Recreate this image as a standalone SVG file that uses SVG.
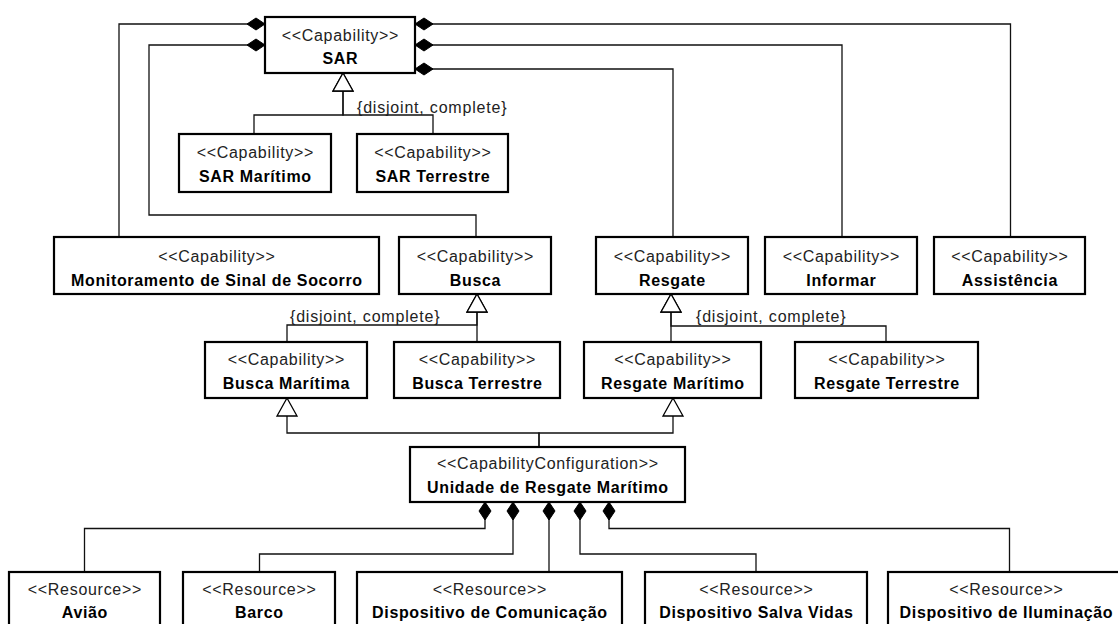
<svg xmlns="http://www.w3.org/2000/svg" width="1118" height="624" viewBox="0 0 1118 624">
  <style>
    .box { fill: #fff; stroke: #000; stroke-width: 2.2; }
    .st { font-family: "Liberation Sans", Arial, sans-serif; font-size: 16px; fill: #222; letter-spacing: 0.7px; text-anchor: middle; }
    .nm { font-family: "Liberation Sans", Arial, sans-serif; font-size: 16px; font-weight: bold; fill: #000; letter-spacing: 0.65px; text-anchor: middle; }
    .lbl { font-family: "Liberation Sans", Arial, sans-serif; font-size: 16px; fill: #222; letter-spacing: 0.8px; }
    .edge { fill: none; stroke: #111; stroke-width: 1.3; }
    .comp { marker-start: url(#diamond); }
    .gen { marker-end: url(#triangle); }
  </style>
  <defs>
    <!-- filled diamond for composition ends -->
    <marker id="diamond" markerUnits="userSpaceOnUse" markerWidth="20" markerHeight="14" refX="0" refY="0" orient="auto" overflow="visible">
      <path d="M0,0 L9,-6 L18,0 L9,6 Z" fill="#000" stroke="#000" stroke-width="1"/>
    </marker>
    <!-- hollow triangle for generalization ends -->
    <marker id="triangle" markerUnits="userSpaceOnUse" markerWidth="20" markerHeight="22" refX="0" refY="0" orient="auto" overflow="visible">
      <path d="M0,0 L-18,-10 L-18,10 Z" fill="#fff" stroke="#000" stroke-width="1.3"/>
    </marker>
  </defs>

  <rect width="1118" height="624" fill="#fff"/>

  <g id="connectors">
    <!-- compositions owned by SAR -->
    <path class="edge comp" d="M265,24 H119 V237"/>
    <path class="edge comp" d="M265,45 H149 V215 H476 V237"/>
    <path class="edge comp" d="M415,24 H1010.5 V237"/>
    <path class="edge comp" d="M415,45 H842 V237"/>
    <path class="edge comp" d="M415,69 H673 V237"/>
    <!-- SAR specializations -->
    <path class="edge gen" d="M254,134 V115 H343 V73"/>
    <path class="edge gen" d="M433,134 V115 H343 V73"/>
    <!-- Busca specializations -->
    <path class="edge gen" d="M287,342 V325 H477 V294"/>
    <path class="edge gen" d="M477,342 V294"/>
    <!-- Resgate specializations -->
    <path class="edge gen" d="M671,342 V294"/>
    <path class="edge gen" d="M886,342 V326 H671 V294"/>
    <!-- configuration realizes both maritime capabilities -->
    <path class="edge gen" d="M539,447 V433 H287 V398"/>
    <path class="edge gen" d="M539,447 V433 H673 V398"/>
    <!-- resources composing the configuration -->
    <path class="edge comp" d="M485,502 V528.5 H84.5 V572"/>
    <path class="edge comp" d="M513,502 V554 H259.5 V572"/>
    <path class="edge comp" d="M549,502 V572"/>
    <path class="edge comp" d="M580,502 V554 H756 V572"/>
    <path class="edge comp" d="M609,502 V528.5 H1009.5 V572"/>
    <!-- generalization set constraints -->
    <text class="lbl" x="357" y="113">{disjoint, complete}</text>
    <text class="lbl" x="290" y="322">{disjoint, complete}</text>
    <text class="lbl" x="696" y="322">{disjoint, complete}</text>
  </g>

  <g id="sar">
    <rect class="box" x="265" y="17" width="150" height="56"/>
    <text class="st" x="340.4" y="41">&lt;&lt;Capability&gt;&gt;</text>
    <text class="nm" x="340.4" y="64">SAR</text>
  </g>
  <g id="sar-maritimo">
    <rect class="box" x="179" y="134" width="152" height="58"/>
    <text class="st" x="255.4" y="158">&lt;&lt;Capability&gt;&gt;</text>
    <text class="nm" x="255.4" y="182">SAR Marítimo</text>
  </g>
  <g id="sar-terrestre">
    <rect class="box" x="357" y="134" width="151" height="58"/>
    <text class="st" x="432.9" y="158">&lt;&lt;Capability&gt;&gt;</text>
    <text class="nm" x="432.9" y="182">SAR Terrestre</text>
  </g>
  <g id="monitoramento">
    <rect class="box" x="54" y="237" width="325" height="57"/>
    <text class="st" x="216.9" y="262">&lt;&lt;Capability&gt;&gt;</text>
    <text class="nm" x="216.9" y="286">Monitoramento de Sinal de Socorro</text>
  </g>
  <g id="busca">
    <rect class="box" x="399" y="237" width="152" height="57"/>
    <text class="st" x="475.4" y="262">&lt;&lt;Capability&gt;&gt;</text>
    <text class="nm" x="475.4" y="286">Busca</text>
  </g>
  <g id="resgate">
    <rect class="box" x="596" y="237" width="152" height="57"/>
    <text class="st" x="672.4" y="262">&lt;&lt;Capability&gt;&gt;</text>
    <text class="nm" x="672.4" y="286">Resgate</text>
  </g>
  <g id="informar">
    <rect class="box" x="765" y="237" width="152" height="57"/>
    <text class="st" x="841.4" y="262">&lt;&lt;Capability&gt;&gt;</text>
    <text class="nm" x="841.4" y="286">Informar</text>
  </g>
  <g id="assistencia">
    <rect class="box" x="934" y="237" width="151" height="57"/>
    <text class="st" x="1009.9" y="262">&lt;&lt;Capability&gt;&gt;</text>
    <text class="nm" x="1009.9" y="286">Assistência</text>
  </g>
  <g id="busca-maritima">
    <rect class="box" x="205" y="342" width="162" height="56"/>
    <text class="st" x="286.4" y="365">&lt;&lt;Capability&gt;&gt;</text>
    <text class="nm" x="286.4" y="389">Busca Marítima</text>
  </g>
  <g id="busca-terrestre">
    <rect class="box" x="394" y="342" width="166" height="56"/>
    <text class="st" x="477.4" y="365">&lt;&lt;Capability&gt;&gt;</text>
    <text class="nm" x="477.4" y="389">Busca Terrestre</text>
  </g>
  <g id="resgate-maritimo">
    <rect class="box" x="584" y="342" width="177" height="56"/>
    <text class="st" x="672.9" y="365">&lt;&lt;Capability&gt;&gt;</text>
    <text class="nm" x="672.9" y="389">Resgate Marítimo</text>
  </g>
  <g id="resgate-terrestre">
    <rect class="box" x="795" y="342" width="183" height="56"/>
    <text class="st" x="886.9" y="365">&lt;&lt;Capability&gt;&gt;</text>
    <text class="nm" x="886.9" y="389">Resgate Terrestre</text>
  </g>
  <g id="unidade-resgate-maritimo">
    <rect class="box" x="410" y="447" width="275" height="55"/>
    <text class="st" x="547.9" y="469">&lt;&lt;CapabilityConfiguration&gt;&gt;</text>
    <text class="nm" x="547.9" y="493">Unidade de Resgate Marítimo</text>
  </g>
  <g id="aviao">
    <rect class="box" x="9" y="572" width="151" height="60"/>
    <text class="st" x="84.9" y="595">&lt;&lt;Resource&gt;&gt;</text>
    <text class="nm" x="84.9" y="618">Avião</text>
  </g>
  <g id="barco">
    <rect class="box" x="183" y="572" width="152" height="60"/>
    <text class="st" x="259.4" y="595">&lt;&lt;Resource&gt;&gt;</text>
    <text class="nm" x="259.4" y="618">Barco</text>
  </g>
  <g id="dispositivo-comunicacao">
    <rect class="box" x="357" y="572" width="265" height="60"/>
    <text class="st" x="489.9" y="595">&lt;&lt;Resource&gt;&gt;</text>
    <text class="nm" x="489.9" y="618">Dispositivo de Comunicação</text>
  </g>
  <g id="dispositivo-salva-vidas">
    <rect class="box" x="645" y="572" width="222" height="60"/>
    <text class="st" x="756.4" y="595">&lt;&lt;Resource&gt;&gt;</text>
    <text class="nm" x="756.4" y="618">Dispositivo Salva Vidas</text>
  </g>
  <g id="dispositivo-iluminacao">
    <rect class="box" x="888" y="572" width="236" height="60"/>
    <text class="st" x="1006.4" y="595">&lt;&lt;Resource&gt;&gt;</text>
    <text class="nm" x="1006.4" y="618">Dispositivo de Iluminação</text>
  </g>
</svg>
